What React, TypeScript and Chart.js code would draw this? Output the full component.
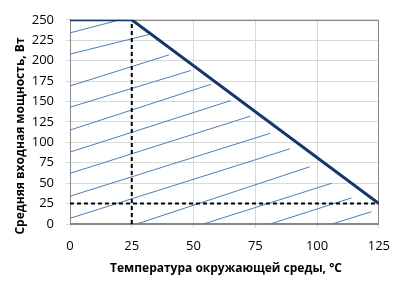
import React, { useEffect, useRef } from 'react';
import { Chart, registerables } from 'chart.js';

Chart.register(...registerables);

// Axis ticks
const xTicks = [0, 25, 50, 75, 100, 125];
const yTicks = [0, 25, 50, 75, 100, 125, 150, 175, 200, 225, 250];

// Derating curve (°C, W)
const curveX = [0, 25, 125];
const curveY = [250, 250, 25];

// Dashed reference lines
const vRefX = [25, 25];
const vRefY = [0, 250];
const hRefX = [0, 125];
const hRefY = [25, 25];

// Hatching segments (start -> end), in data units
const hatchStartX = [0, 0, 0, 0, 0, 0, 0, 0, 0, 27, 54, 81, 106];
const hatchStartY = [234, 208, 169, 143, 115, 88, 62, 34, 7, 0, 0, 0, 0];
const hatchEndX = [19, 32, 40, 49, 57, 65, 73, 81, 89, 97, 106, 114, 122];
const hatchEndY = [249, 232, 207, 188, 171, 151, 132, 111, 92, 70, 50, 32, 15];

const xTitle = 'Температура окружающей среды, °C';
const yTitle = 'Средняя входная мощность, Вт';

const FONT = '"Open Sans", "Noto Sans", sans-serif';

const framePlugin = {
  id: 'frameAndTitles',
  beforeDatasetsDraw(chart: any) {
    const { ctx, chartArea } = chart;
    const l = Math.round(chartArea.left) + 0.5;
    const t = Math.round(chartArea.top) + 0.5;
    const r = Math.round(chartArea.right) - 0.5;
    const b = Math.round(chartArea.bottom) - 0.5;
    ctx.save();
    ctx.strokeStyle = '#868686';
    ctx.lineWidth = 1;
    ctx.strokeRect(l, t, r - l, b - t);
    ctx.restore();
  },
  afterDraw(chart: any) {
    const { ctx } = chart;
    ctx.save();
    ctx.fillStyle = '#000000';
    ctx.font = `bold 12px ${FONT}`;
    ctx.textAlign = 'center';
    ctx.textBaseline = 'middle';
    ctx.fillText(xTitle, 226, 269);
    ctx.translate(21, 136);
    ctx.rotate(-Math.PI / 2);
    ctx.fillText(yTitle, 0, 0);
    ctx.restore();
  },
};

export default function App() {
  const ref = useRef<HTMLCanvasElement | null>(null);

  useEffect(() => {
    if (!ref.current) return;
    const hatchSets = hatchStartX.map((sx, i) => ({
      data: [
        { x: sx, y: hatchStartY[i] },
        { x: hatchEndX[i], y: hatchEndY[i] },
      ],
      borderColor: '#4a7ebb',
      borderWidth: 1,
      pointRadius: 0,
      tension: 0,
    }));
    const chart = new Chart(ref.current, {
      type: 'line',
      data: {
        datasets: [
          {
            data: curveX.map((x, i) => ({ x, y: curveY[i] })),
            borderColor: '#17376b',
            borderWidth: 3,
            pointRadius: 0,
            tension: 0,
          },
          {
            data: vRefX.map((x, i) => ({ x, y: vRefY[i] })),
            borderColor: '#000000',
            borderWidth: 2,
            borderDash: [4, 3],
            pointRadius: 0,
          },
          {
            data: hRefX.map((x, i) => ({ x, y: hRefY[i] })),
            borderColor: '#000000',
            borderWidth: 2,
            borderDash: [4, 3],
            pointRadius: 0,
          },
          ...hatchSets,
        ],
      },
      options: {
        animation: false,
        responsive: true,
        maintainAspectRatio: false,
        layout: { padding: { top: 9, right: 15, left: 0, bottom: 0 } },
        plugins: {
          legend: { display: false },
          tooltip: { enabled: false },
        },
        scales: {
          x: {
            type: 'linear',
            min: 0,
            max: 125,
            afterBuildTicks: (s: any) => {
              s.ticks = xTicks.map((v) => ({ value: v }));
            },
            afterFit: (s: any) => {
              s.height = 63;
            },
            grid: { color: '#d9d9d9', lineWidth: 1, tickLength: 4 },
            border: { color: '#868686', width: 1 },
            ticks: {
              color: '#000000',
              font: { family: FONT, size: 13 },
              padding: 10,
              maxRotation: 0,
            },
          },
          y: {
            type: 'linear',
            min: 0,
            max: 250,
            afterBuildTicks: (s: any) => {
              s.ticks = yTicks.map((v) => ({ value: v }));
            },
            afterFit: (s: any) => {
              s.width = 70;
            },
            grid: { color: '#d9d9d9', lineWidth: 1, tickLength: 4 },
            border: { color: '#868686', width: 1 },
            ticks: {
              color: '#000000',
              font: { family: FONT, size: 13 },
              padding: 12,
            },
          },
        },
      },
      plugins: [framePlugin],
    });
    return () => chart.destroy();
  }, []);

  return (
    <div style={{ position: 'fixed', left: 0, top: 0, width: 400, height: 287, background: '#ffffff' }}>
      <canvas ref={ref} />
    </div>
  );
}
